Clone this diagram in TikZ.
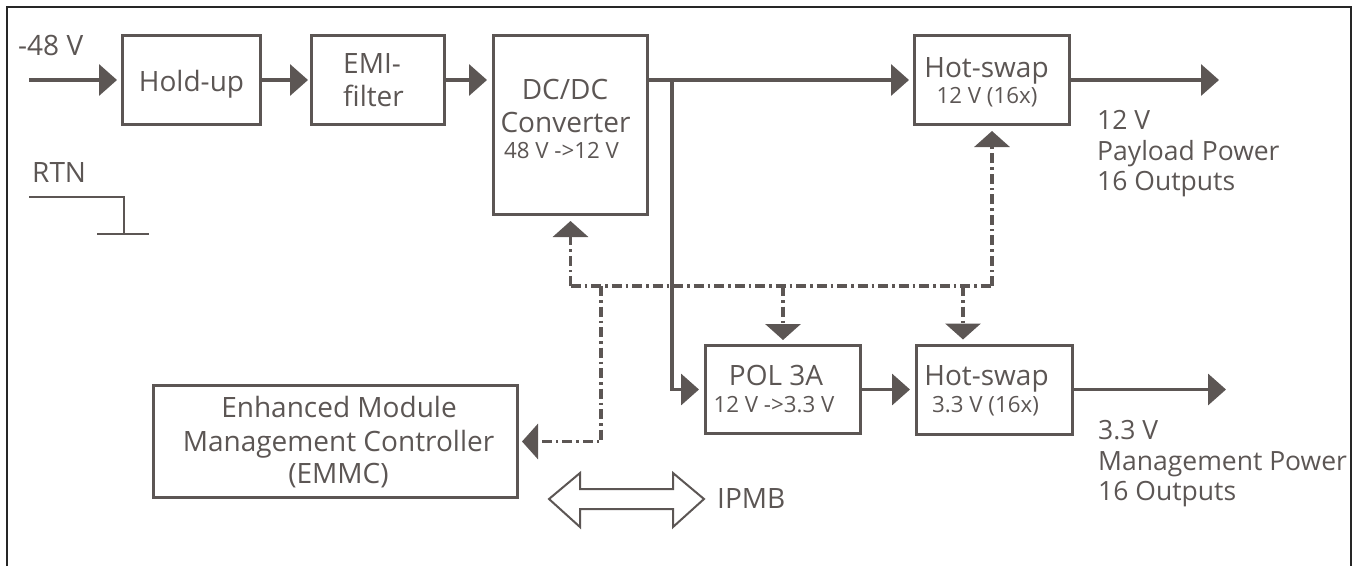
\documentclass[tikz,border=0pt]{standalone}
\usepackage{fontspec}
\setmainfont{Open Sans}
\usetikzlibrary{arrows.meta}
\definecolor{ink}{RGB}{92,86,84}
\begin{document}
\begin{tikzpicture}[x=1pt,y=-1pt,
  box/.style={draw=ink,line width=3pt,inner sep=0pt},
  flow/.style={draw=ink,line width=3.5pt,-{Triangle[length=18pt,width=31pt]}},
  ctrlline/.style={draw=ink,line width=3.5pt,dash pattern=on 10pt off 4pt on 2.5pt off 4pt},
  ctrl/.style={ctrlline,-{Triangle[length=16pt,width=35pt]}},
  lbl/.style={text=ink,font=\fontsize{28}{33}\selectfont,anchor=base,inner sep=0pt},
  outlbl/.style={text=ink,font=\fontsize{26.5}{31}\selectfont,anchor=base west,inner sep=0pt},
  sml/.style={text=ink,font=\fontsize{22.3}{26}\selectfont,anchor=base,inner sep=0pt}]
\useasboundingbox (0,0) rectangle (1357,566);
\draw[line width=2pt,black!85] (7,566) -- (7,7) -- (1351,7) -- (1351,566);

% boxes
\node[box,minimum width=138pt,minimum height=89pt] (hold) at (191.5,80) {};
\node[box,minimum width=133pt,minimum height=89pt] (emi) at (378,80) {};
\node[box,minimum width=154pt,minimum height=179pt] (dcdc) at (570.5,125) {};
\node[box,minimum width=155pt,minimum height=89pt] (hs12) at (992,80) {};
\node[box,minimum width=155pt,minimum height=88pt] (pol) at (783,389.5) {};
\node[box,minimum width=156pt,minimum height=89pt] (hs33) at (994.5,389.5) {};
\node[box,minimum width=364pt,minimum height=112pt] (emmc) at (335.5,441.5) {};

% texts
\node[lbl,anchor=base west] (tin) at (18,55) {-48 V};
\node[lbl] (thold) at (191.5,91) {Hold-up};
\node[lbl,anchor=base west] (temi1) at (343,73) {EMI-};
\node[lbl,anchor=base west] (temi2) at (343,106) {filter};
\node[lbl] (tdc1) at (565,99) {DC/DC};
\node[lbl] (tdc2) at (565.5,132) {Converter};
\node[sml] (tdc3) at (561.5,158) {48 V ->12 V};
\node[lbl] (ths1) at (986.5,77) {Hot-swap};
\node[sml] (ths2) at (987,103) {12 V (16x)};
\node[lbl] (tpol1) at (776,385) {POL 3A};
\node[sml] (tpol2) at (774,412) {12 V ->3.3 V};
\node[lbl] (thsb1) at (986.5,385) {Hot-swap};
\node[sml] (thsb2) at (985.5,412) {3.3 V (16x)};
\node[lbl] (tem1) at (339,417) {Enhanced Module};
\node[lbl] (tem2) at (338.5,451) {Management Controller};
\node[lbl] (tem3) at (338.5,483) {(EMMC)};
\node[lbl,anchor=base west] (trtn) at (32,182) {RTN};
\node[outlbl] (to1) at (1097,129) {12 V};
\node[outlbl] (to2) at (1097,160) {Payload Power};
\node[outlbl] (to3) at (1097,190) {16 Outputs};
\node[outlbl] (tp1) at (1098,439) {3.3 V};
\node[outlbl] (tp2) at (1098,470) {Management Power};
\node[outlbl] (tp3) at (1098,500) {16 Outputs};
\node[lbl,anchor=base west] (tipmb) at (717,508) {IPMB};

% ground symbol
\draw[ink,line width=2.5pt] (29,197) -- (124,197) -- (124,234);
\draw[ink,line width=2.5pt] (97,234) -- (149,234);

% power flow
\coordinate (in) at (29,80);
\coordinate (j) at (672,80);
\coordinate (o12) at (1219,80);
\coordinate (o33) at (1226,389.5);
\draw[flow,shorten >=4pt] (in) -- (hold.west);
\draw[flow,shorten >=2pt] (hold.east) -- (emi.west);
\draw[flow,shorten >=5pt] (emi.east) -- (dcdc.west |- emi.west);
\draw[flow,shorten >=4pt] (dcdc.east |- hs12.west) -- (hs12.west);
\draw[flow,shorten >=5pt] (j) |- (pol.west);
\draw[flow,shorten >=5pt] (pol.east) -- (hs33.west);
\draw[flow] (hs12.east) -- (o12);
\draw[flow] (hs33.east) -- (o33);

% control bus
\coordinate (bus) at (0,286);
\coordinate (e1) at (601,286);
\draw[ctrlline] (dcdc.south |- bus) -- (hs12.south |- bus);
\draw[ctrl,shorten >=5pt] (dcdc.south |- bus) -- (dcdc.south);
\draw[ctrl,shorten >=5pt] (hs12.south |- bus) -- (hs12.south);
\draw[ctrl,shorten >=4pt] (pol.north |- bus) -- (pol.north);
\draw[ctrl,shorten >=4pt] ([xshift=-31.5pt]hs33.north |- bus) -- ([xshift=-31.5pt]hs33.north);
\draw[ctrl,shorten >=3pt] (e1) |- (emmc.east);

% IPMB double arrow
\draw[ink,line width=2pt,fill=white,line join=miter]
  (549,499) -- (580,473) -- (580,489) -- (673,489) -- (673,473) -- (704,499)
  -- (673,527) -- (673,509) -- (580,509) -- (580,527) -- cycle;
\end{tikzpicture}
\end{document}
